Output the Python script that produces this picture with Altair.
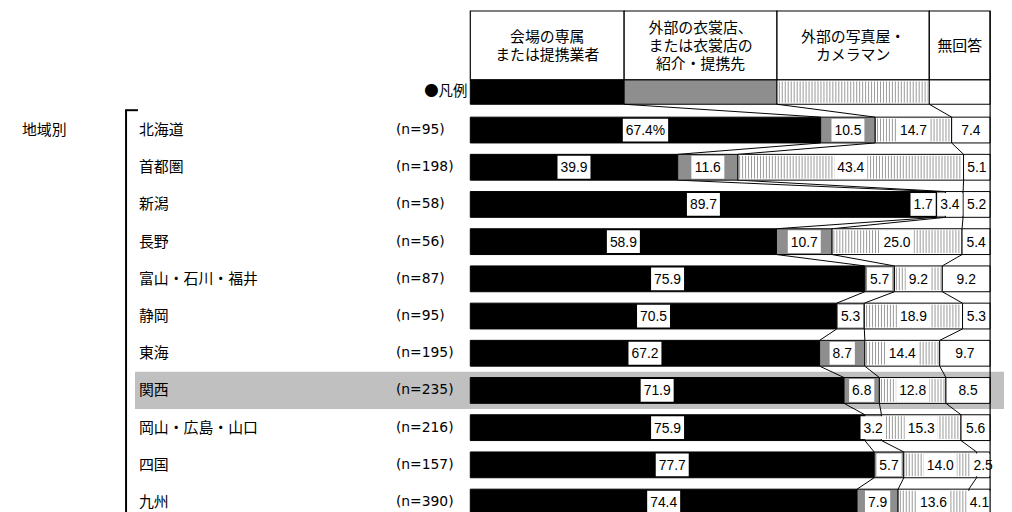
import altair as alt
import pandas as pd

# ---------------- data ----------------
regions = ["北海道", "首都圏", "新潟", "長野", "富山・石川・福井", "静岡", "東海",
           "関西", "岡山・広島・山口", "四国", "九州"]
n_counts = [95, 198, 58, 56, 87, 95, 195, 235, 216, 157, 390]
v_venue = [67.4, 39.9, 89.7, 58.9, 75.9, 70.5, 67.2, 71.9, 75.9, 77.7, 74.4]
v_costume = [10.5, 11.6, 1.7, 10.7, 5.7, 5.3, 8.7, 6.8, 3.2, 5.7, 7.9]
v_photo = [14.7, 43.4, 3.4, 25.0, 9.2, 18.9, 14.4, 12.8, 15.3, 14.0, 13.6]
v_noanswer = [7.4, 5.1, 5.2, 5.4, 9.2, 5.3, 9.7, 8.5, 5.6, 2.5, 4.1]
series_names = ["会場の専属\nまたは提携業者",
                "外部の衣裳店、\nまたは衣裳店の\n紹介・提携先",
                "外部の写真屋・\nカメラマン",
                "無回答"]
legend_share = [29.6, 29.4, 29.3, 11.7]   # widths of the legend key boxes (%)
group_label = "地域別"
legend_title = "●凡例"
highlight_region = "関西"

# ---------------- style / layout ----------------
fills = ["#000000", "#8e8e8e", "#ffffff", "#ffffff"]
STRIPE_SERIES = 2
JP = "Noto Sans CJK JP"
NUM = "Liberation Sans"
X0, X1 = 466, 990          # pixel range of 0..100 %
ROW0, ROWPITCH = 121, 37.5  # pixel centre of first row, row pitch
PXP = (X1 - X0) / 100.0
LH = 18


def yi(px):
    return (px - ROW0) / ROWPITCH


BAR_HALF = 13 / ROWPITCH
BOX_HALF = 11.5 / ROWPITCH
HEAD_TOP, HEAD_BOT, LEG_BOT = yi(1), yi(70.5), yi(95)

xs = alt.Scale(domain=[0, 100], range=[X0, X1], nice=False, zero=False)
ys = alt.Scale(domain=[0, 10], range=[ROW0, ROW0 + 10 * ROWPITCH], nice=False, zero=False)

values = list(zip(v_venue, v_costume, v_photo, v_noanswer))

seg_rows, lab_rows, con_rows, stripe_rows = [], [], [], []


def add_stripes(a, b, y0, y1):
    # thin vertical hatch lines (texture) every 3 px inside [a, b] (percent)
    p = int(X0 + a * PXP) + 2
    while p + 0.5 < X0 + b * PXP - 1:
        stripe_rows.append(dict(x=(p + 0.5 - X0) / PXP, y0=y0, y1=y1))
        p += 3


leg_bounds = []
c = 0
for w in legend_share:
    c += w
    leg_bounds.append(c)
prev_bounds = leg_bounds[:3]
prev_y = LEG_BOT

cw = {".": 0.278, "%": 0.889}


def text_w(s, size=14):
    return sum(cw.get(ch, 0.556) for ch in s) * size


for k, vals in enumerate(values):
    cum = 0
    bounds = []
    labs = []
    for j, v in enumerate(vals):
        seg_rows.append(dict(row=k, x0=cum, x1=cum + v, fill=fills[j],
                             y0=k - BAR_HALF, y1=k + BAR_HALF))
        if j == STRIPE_SERIES:
            add_stripes(cum, cum + v, k - BAR_HALF + 1.5 / ROWPITCH, k + BAR_HALF - 1.5 / ROWPITCH)
        txt = f"{v:.1f}" + ("%" if (k == 0 and j == 0) else "")
        half = (text_w(txt) + 6) / 2 / PXP
        labs.append([cum + v / 2, half, txt])
        cum += v
        bounds.append(cum)
    gap = 1.5 / PXP
    for i in range(len(labs) - 2, 0, -1):
        cc, h, _ = labs[i]
        nc, nh, _ = labs[i + 1]
        if cc + h > nc - nh - gap:
            labs[i][0] = nc - nh - gap - h
    for cc, h, txt in labs:
        lab_rows.append(dict(row=k, c=cc, l=cc - h, r=cc + h, txt=txt,
                             y0=k - BOX_HALF, y1=k + BOX_HALF))
    for b_up, b_dn in zip(prev_bounds, bounds[:3]):
        con_rows.append(dict(xa=b_up, xb=b_dn, ya=prev_y, yb=k - BAR_HALF))
    prev_bounds = bounds[:3]
    prev_y = k + BAR_HALF

hdr_rows = []
c = 0
for j, (name, w, f) in enumerate(zip(series_names, legend_share, fills)):
    nl = name.count("\n") + 1
    hdr_rows.append(dict(x0=c, x1=c + w, name=name, fill=f, xc=c + w / 2,
                         hy0=HEAD_TOP, hy1=HEAD_BOT, ly1=LEG_BOT,
                         ty=yi(36 - (nl - 1) * LH / 2)))
    if j == STRIPE_SERIES:
        add_stripes(c, c + w, HEAD_BOT + 1.5 / ROWPITCH, LEG_BOT - 1.5 / ROWPITCH)
    c += w

seg_df = pd.DataFrame(seg_rows)
lab_df = pd.DataFrame(lab_rows)
con_df = pd.DataFrame(con_rows)
stripe_df = pd.DataFrame(stripe_rows)
hdr_df = pd.DataFrame(hdr_rows)

left_df = pd.DataFrame(dict(row=list(range(len(regions))), region=regions,
                            n=[f"(n={n})" for n in n_counts]))

hl_idx = regions.index(highlight_region)
hl_df = pd.DataFrame([dict(y0=hl_idx - 0.5, y1=hl_idx + 0.5)])

misc_df = pd.DataFrame([dict(t=group_label, y=0.0, lt=legend_title, ly=yi(83),
                             xr=100.0, ytop=HEAD_TOP, ybot=yi(520),
                             btop=yi(101))])

# ---------------- layers ----------------
highlight = alt.Chart(hl_df).mark_rect(color="#c0c0c0").encode(
    x=alt.value(128), x2=alt.value(1004),
    y=alt.Y("y0:Q", scale=ys, axis=None), y2="y1:Q")

header_box = alt.Chart(hdr_df).mark_rect(stroke="black", strokeWidth=1.2, fill="white").encode(
    x=alt.X("x0:Q", scale=xs, axis=None), x2="x1:Q",
    y=alt.Y("hy0:Q", scale=ys, axis=None), y2="hy1:Q")

header_txt = alt.Chart(hdr_df).mark_text(font=JP, fontSize=15, lineHeight=LH,
                                         lineBreak="\n", align="center", baseline="middle",
                                         color="black").encode(
    x=alt.X("xc:Q", scale=xs, axis=None),
    y=alt.Y("ty:Q", scale=ys, axis=None),
    text="name:N")

legend_box = alt.Chart(hdr_df).mark_rect(stroke="black", strokeWidth=1).encode(
    x=alt.X("x0:Q", scale=xs, axis=None), x2="x1:Q",
    y=alt.Y("hy1:Q", scale=ys, axis=None), y2="ly1:Q",
    fill=alt.Fill("fill:N", scale=None))

connectors = alt.Chart(con_df).mark_rule(color="black", strokeWidth=1).encode(
    x=alt.X("xa:Q", scale=xs, axis=None), x2="xb:Q",
    y=alt.Y("ya:Q", scale=ys, axis=None), y2="yb:Q")

bars = alt.Chart(seg_df).mark_rect(stroke="black", strokeWidth=1).encode(
    x=alt.X("x0:Q", scale=xs, axis=None), x2="x1:Q",
    y=alt.Y("y0:Q", scale=ys, axis=None), y2="y1:Q",
    fill=alt.Fill("fill:N", scale=None))

stripes = alt.Chart(stripe_df).mark_rule(color="#9a9a9a", strokeWidth=1).encode(
    x=alt.X("x:Q", scale=xs, axis=None),
    y=alt.Y("y0:Q", scale=ys, axis=None), y2="y1:Q")

lab_box = alt.Chart(lab_df).mark_rect(fill="white").encode(
    x=alt.X("l:Q", scale=xs, axis=None), x2="r:Q",
    y=alt.Y("y0:Q", scale=ys, axis=None), y2="y1:Q")

lab_txt = alt.Chart(lab_df).mark_text(font=NUM, fontSize=14, color="black",
                                      baseline="middle", align="center", dy=1).encode(
    x=alt.X("c:Q", scale=xs, axis=None),
    y=alt.Y("row:Q", scale=ys, axis=None),
    text="txt:N")

region_txt = alt.Chart(left_df).mark_text(font=JP, fontSize=15, color="black",
                                          align="left", baseline="middle").encode(
    x=alt.value(132), y=alt.Y("row:Q", scale=ys, axis=None), text="region:N")

n_txt = alt.Chart(left_df).mark_text(font="DejaVu Sans", fontSize=14, color="black",
                                     align="left", baseline="middle").encode(
    x=alt.value(391), y=alt.Y("row:Q", scale=ys, axis=None), text="n:N")

group_txt = alt.Chart(misc_df).mark_text(font=JP, fontSize=15, color="black",
                                         align="left", baseline="middle").encode(
    x=alt.value(14), y=alt.Y("y:Q", scale=ys, axis=None), text="t:N")

leg_title = alt.Chart(misc_df).mark_text(font=JP, fontSize=14.5, color="black",
                                         align="right", baseline="middle").encode(
    x=alt.value(463), y=alt.Y("ly:Q", scale=ys, axis=None), text="lt:N")

bracket_v = alt.Chart(misc_df).mark_rule(color="black", strokeWidth=2).encode(
    x=alt.value(119), y=alt.Y("btop:Q", scale=ys, axis=None), y2="ybot:Q")
bracket_h = alt.Chart(misc_df).mark_rule(color="black", strokeWidth=2).encode(
    x=alt.value(118), x2=alt.value(131), y=alt.Y("btop:Q", scale=ys, axis=None))

right_line = alt.Chart(misc_df).mark_rule(color="black", strokeWidth=1.2).encode(
    x=alt.X("xr:Q", scale=xs, axis=None),
    y=alt.Y("ytop:Q", scale=ys, axis=None), y2="ybot:Q")

chart = alt.layer(
    highlight, header_box, header_txt, legend_box, connectors, bars, stripes,
    lab_box, lab_txt, region_txt, n_txt, group_txt, leg_title,
    bracket_v, bracket_h, right_line
).properties(
    width=1004, height=504,
    autosize=alt.AutoSizeParams(type="none"),
    padding=0,
).configure_view(stroke=None)

chart.save("out.html", embed_options={"renderer": "svg", "actions": False})
